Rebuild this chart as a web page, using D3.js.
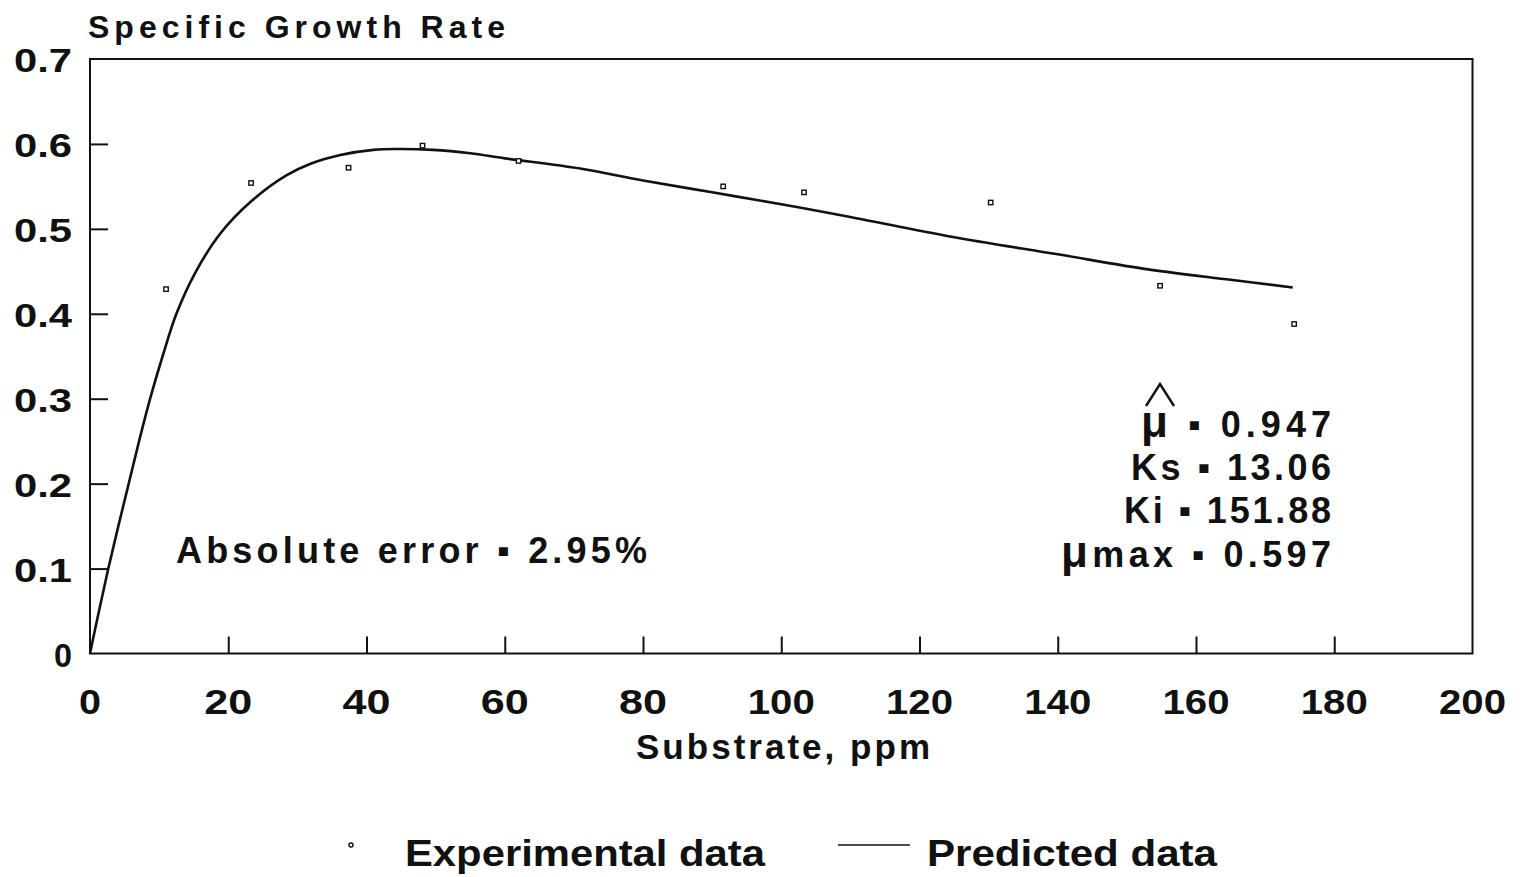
<!DOCTYPE html>
<html>
<head>
<meta charset="utf-8">
<script src="https://cdn.jsdelivr.net/npm/d3@7"></script>
<style>
html,body{margin:0;padding:0;background:#fff;}
svg{display:block;}
text{font-family:"Liberation Sans",Arial,Helvetica,sans-serif;font-weight:bold;fill:#111;}
</style>
</head>
<body>
<svg id="chart" width="1523" height="877"></svg>
<script>
// ---- data ----
const expSubstrate = [11.0, 23.3, 37.4, 48.1, 62.0, 91.6, 103.3, 130.3, 154.8, 174.2];
const expRate      = [0.429, 0.554, 0.572, 0.598, 0.580, 0.550, 0.543, 0.531, 0.433, 0.388];

const predSubstrate = [0, 1.3, 2.65, 4.1, 5.6, 7.1, 8.7, 10.5, 12.5, 15.2, 18.8, 23.4, 28.4, 32, 36.2, 41, 44.4, 49.6, 55, 60, 70.9, 80, 90, 100, 110, 124.4, 140, 153.3, 165, 174];
const predRate      = [0, 0.05, 0.10, 0.15, 0.20, 0.25, 0.30, 0.35, 0.40, 0.448, 0.494, 0.533, 0.563, 0.577, 0.587, 0.593, 0.594, 0.593, 0.589, 0.583, 0.571, 0.557, 0.543, 0.529, 0.514, 0.491, 0.470, 0.452, 0.440, 0.431];

const xTicks = [0, 20, 40, 60, 80, 100, 120, 140, 160, 180, 200];
const yTicks = [0, 0.1, 0.2, 0.3, 0.4, 0.5, 0.6, 0.7];
const yTickLabels = ["0", "0.1", "0.2", "0.3", "0.4", "0.5", "0.6", "0.7"];

// parameter annotations: [symbol part, rest]
const paramSymbols = ["\u03BC", "Ks", "Ki", "\u03BCmax"];
const paramValues  = ["0.947", "13.06", "151.88", "0.597"];

// ---- layout ----
const svg = d3.select("#chart");
const x = d3.scaleLinear().domain([0, 200]).range([90, 1472.5]);
const y = d3.scaleLinear().domain([0, 0.7]).range([653.5, 59]);

function fitText(sel, len, mode){ sel.attr("textLength", len).attr("lengthAdjust", mode || "spacing"); return sel; }

// frame
svg.append("rect").attr("x", x(0)).attr("y", y(0.7))
  .attr("width", x(200) - x(0)).attr("height", y(0) - y(0.7))
  .attr("fill", "none").attr("stroke", "#111").attr("stroke-width", 2);

// x axis (ticks inward)
const xAxis = d3.axisBottom(x).tickValues(xTicks).tickSize(-17).tickFormat("");
const gx = svg.append("g").attr("transform", `translate(0,${y(0)})`).call(xAxis);
gx.select(".domain").remove();
gx.selectAll(".tick line").attr("stroke", "#111").attr("stroke-width", 2);
gx.selectAll(".tick").filter(d => d === 0 || d === 200).select("line").remove();

xTicks.forEach(v => {
  const s = String(v);
  const w = s.length === 1 ? 22 : s.length === 2 ? 48 : 67;
  fitText(svg.append("text").attr("x", x(v)).attr("y", 714).attr("text-anchor", "middle")
    .attr("font-size", 35).text(s), w, "spacingAndGlyphs");
});

// y axis (ticks inward)
const yAxis = d3.axisLeft(y).tickValues(yTicks).tickSize(-18).tickFormat("");
const gy = svg.append("g").attr("transform", `translate(${x(0)},0)`).call(yAxis);
gy.select(".domain").remove();
gy.selectAll(".tick line").attr("stroke", "#111").attr("stroke-width", 2);
gy.selectAll(".tick").filter(d => d === 0 || d === 0.7).select("line").remove();

yTicks.forEach((v, i) => {
  const s = yTickLabels[i];
  fitText(svg.append("text").attr("x", 72).attr("y", y(v) + 13).attr("text-anchor", "end")
    .attr("font-size", 34).text(s), s.length === 1 ? 18 : 58, "spacingAndGlyphs");
});

// titles
fitText(svg.append("text").attr("x", 88).attr("y", 38).attr("font-size", 32).text("Specific Growth Rate"), 417);
fitText(svg.append("text").attr("x", 783).attr("y", 759).attr("text-anchor", "middle").attr("font-size", 35).text("Substrate, ppm"), 294);

// predicted curve
const predData = predSubstrate.map((s, i) => [s, predRate[i]]);
svg.append("path").datum(predData)
  .attr("d", d3.line().x(d => x(d[0])).y(d => y(d[1])).curve(d3.curveCatmullRom.alpha(0.5)))
  .attr("fill", "none").attr("stroke", "#111").attr("stroke-width", 2.6);

// experimental points
const expData = expSubstrate.map((s, i) => [s, expRate[i]]);
svg.append("g").selectAll("rect").data(expData).join("rect")
  .attr("x", d => x(d[0]) - 2.2).attr("y", d => y(d[1]) - 2.2)
  .attr("width", 4.4).attr("height", 4.4)
  .attr("fill", "#fff").attr("stroke", "#111").attr("stroke-width", 1.4);

// annotations
fitText(svg.append("text").attr("x", 176).attr("y", 563).attr("font-size", 36).text("Absolute error \u25AA 2.95%"), 471);

const pBase = [437, 480, 523, 567];
const pLen = [190, 200, 207, 270];
paramSymbols.forEach((sym, i) => {
  const t = svg.append("text").attr("x", 1331).attr("y", pBase[i]).attr("text-anchor", "end").attr("font-size", 36);
  if (sym.startsWith("\u03BC")) {
    t.append("tspan").attr("font-size", 44).text("\u03BC");
    t.append("tspan").text(sym.slice(1) + " \u25AA " + paramValues[i]);
  } else {
    t.append("tspan").text(sym + " \u25AA " + paramValues[i]);
  }
  fitText(t, pLen[i]);
});
// circumflex over mu-hat
svg.append("path").attr("d", "M1146,406 L1160,384 L1174,406")
  .attr("fill", "none").attr("stroke", "#111").attr("stroke-width", 2.4);

// legend
svg.append("circle").attr("cx", 351).attr("cy", 845).attr("r", 2)
  .attr("fill", "#fff").attr("stroke", "#111").attr("stroke-width", 1.4);
fitText(svg.append("text").attr("x", 405).attr("y", 866).attr("font-size", 37).text("Experimental data"), 360, "spacingAndGlyphs");
svg.append("line").attr("x1", 838).attr("x2", 910).attr("y1", 845).attr("y2", 845)
  .attr("stroke", "#111").attr("stroke-width", 1.6);
fitText(svg.append("text").attr("x", 927).attr("y", 866).attr("font-size", 37).text("Predicted data"), 290, "spacingAndGlyphs");
</script>
</body>
</html>
